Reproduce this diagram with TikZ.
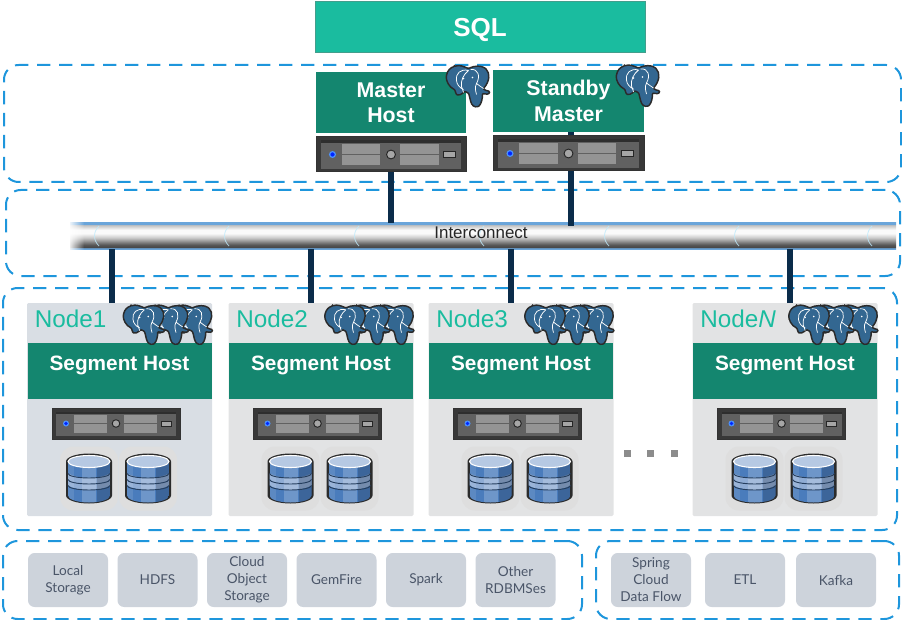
\documentclass[tikz,border=0pt]{standalone}
\usepackage{fontspec}
\setmainfont{Liberation Sans}
\newfontfamily\boxfont{Lato}
\usepackage{tikz}
\usetikzlibrary{positioning,calc,fadings}
\definecolor{sqlgreen}{HTML}{1ABC9F}
\definecolor{hostgreen}{HTML}{14866F}
\definecolor{zoneblue}{HTML}{1E96DC}
\definecolor{linkblue}{HTML}{0B2C4A}
\definecolor{nodegrey}{HTML}{E2E3E4}
\definecolor{storegrey}{HTML}{CDD3DB}
\definecolor{storetext}{HTML}{4A5568}
\definecolor{eleblue}{HTML}{336791}
\definecolor{elerim}{HTML}{2B2B2B}
\definecolor{diskblue}{HTML}{4A7CBC}
\definecolor{disklight}{HTML}{8FACD4}
\definecolor{barblue}{HTML}{6AA5DA}
\def\px{0.75pt}
\pgfdeclareverticalshading{barshade}{100bp}{
  color(0bp)=(barblue); color(26.5bp)=(barblue); color(28.5bp)=(black!72);
  color(33bp)=(black!66); color(47bp)=(black!20); color(55bp)=(black!2);
  color(62bp)=(black!2); color(71bp)=(black!25); color(72.5bp)=(barblue);
  color(100bp)=(barblue)}
\tikzset{
  sized/.style 2 args={minimum width=#1*\px, minimum height=#2*\px, inner sep=0pt, outer sep=0pt},
  zone/.style={draw=zoneblue, line width=1.5pt, rounded corners=11pt,
               dash pattern=on 10pt off 6.5pt},
  sqlbox/.style={draw=hostgreen!80, fill=sqlgreen, line width=0.75pt, text=white, text depth=0pt,
                 font=\fontsize{19.5}{22}\selectfont\bfseries},
  hostbox/.style={fill=hostgreen, text=white, align=center,
                  font=\fontsize{16}{19}\selectfont\bfseries},
  serverbox/.style={draw=black!80, fill=black!78, line width=0.75pt},
  segbox/.style={sized={185}{213}, fill=#1, rounded corners=1pt},
  seglabel/.style={text=sqlgreen, font=\fontsize{18.2}{20}\selectfont, inner sep=0pt},
  segtext/.style={text=white, font=\fontsize{15.6}{18}\selectfont\bfseries, inner sep=0pt},
  storebox/.style={sized={80}{54}, fill=storegrey, rounded corners=5pt, text=storetext,
                   align=center, font=\boxfont\fontsize{10.2}{12.8}\selectfont},
  link/.style={draw=linkblue, line width=4.2pt},
  dotbox/.style={sized={7}{7}, fill=black!45},
  server/.pic={
    \fill[black!62] (-60,-12) rectangle (60,12);
    \fill[black!82] (-60,-12) -- (60,-12) -- (60,-10) -- (-60,-10) -- cycle;
    \fill[black!42] (-42,-9) rectangle (-9,9);
    \fill[black!42] (8,-9) rectangle (41,9);
    \draw[black!62, line width=0.5pt] (-42,0) -- (-9,0) (8,0) -- (41,0);
    \fill[black!35, draw=black!85, line width=0.7pt] (0,0) circle (3.8);
    \fill[blue!60!cyan!70] (-50,0) circle (3);
    \fill[blue!85!cyan] (-50,0) circle (1.8);
    \fill[black!35, draw=black!85, line width=0.5pt] (45,-2.5) rectangle (55,2.5);
  },
  disk/.pic={
    \fill[black!13, rounded corners=10pt] (-29,-32) rectangle (29,32);
    \fill[elerim] (-23,-17) -- (-23,17) arc[start angle=180, end angle=0, x radius=23, y radius=8]
                  -- (23,-17) arc[start angle=0, end angle=-180, x radius=23, y radius=8] -- cycle;
    \begin{scope}
      \clip (-21,-17) -- (-21,17) arc[start angle=180, end angle=0, x radius=21, y radius=7]
                  -- (21,-17) -- cycle;
      \fill[diskblue] (-21,-17) rectangle (21,24);
      \fill[disklight] (-21,-5) .. controls (-10,1) and (10,1) .. (21,-5) -- (21,7)
                       .. controls (10,13) and (-10,13) .. (-21,7) -- cycle;
      \fill[white, opacity=0.2] (-7,-17) rectangle (7,24);
      \fill[black, opacity=0.18] (8,-17) rectangle (21,24);
      \fill[white, opacity=0.1] (-21,-17) rectangle (-15,24);
    \end{scope}
    \draw[black!50!diskblue, line width=0.7pt] (-21,-5) arc[start angle=180, end angle=0, x radius=21, y radius=4.5];
    \draw[black!50!diskblue, line width=0.7pt] (-21,1) arc[start angle=180, end angle=0, x radius=21, y radius=4.5];
    \draw[black!50!diskblue, line width=0.7pt] (-21,7) arc[start angle=180, end angle=0, x radius=21, y radius=4.5];
    \fill[disklight!65!white, draw=white, line width=0.8pt] (0,-17) ellipse (21 and 6);
  },
  elephant/.pic={
    \filldraw[fill=eleblue, draw=elerim, line width=1.1pt, rounded corners=0.6pt]
      (-12,-20) .. controls (-7,-22) and (-3,-20) .. (2,-18)
      .. controls (8,-21) and (15,-21) .. (19,-18)
      .. controls (24,-13) and (23,-5) .. (17,2)
      .. controls (18,4) and (21,4) .. (23,5)
      .. controls (23,8) and (19,8) .. (16,7)
      .. controls (16,12) and (15,17) .. (12,20)
      .. controls (8,21) and (5,19) .. (4,14)
      .. controls (3,11) and (3,9) .. (2,7)
      .. controls (0,5) and (-2,5) .. (-3,6)
      .. controls (-5,8) and (-8,9) .. (-10,8)
      .. controls (-11,6) and (-11,5) .. (-12,3)
      .. controls (-17,1) and (-21,-6) .. (-20,-11)
      .. controls (-19,-16) and (-16,-19) .. (-12,-20) -- cycle;
    \draw[white, line width=0.55pt]
      (-10,-6) .. controls (-11,-13) and (-6,-18) .. (2,-16)
      (-10,-6) .. controls (-10,-2) and (-6,2) .. (-3,3)
      (2,-16) .. controls (-3,-12) and (-6,-6) .. (-5,0) .. controls (-4,3) and (-3,5) .. (-3,6)
      (4,-17) .. controls (12,-18) and (14,-10) .. (10,-3) .. controls (8,1) and (9,4) .. (10,8)
      (10,-3) .. controls (13,-1) and (15,1) .. (17,2);
    \fill[white] (-3,-8) circle (0.9) (6,-9) circle (0.9);
  },
}
\begin{document}
\begin{tikzpicture}[x=0.75pt, y=-0.75pt]
  \useasboundingbox (0,0) rectangle (902,620);

  \node[zone, sized={897}{117}] (masterzone) at (452.5,123.5) {};
  \node[zone, sized={894}{86}]  (netzone)    at (453,233) {};
  \node[zone, sized={894}{242}] (segzone)    at (450,409) {};
  \node[zone, sized={579}{78}]  (storezone)  at (292.5,580) {};
  \node[zone, sized={303}{78}]  (etlzone)    at (747.5,580) {};

  \node[sqlbox, sized={330}{51}] (sql) at (480,27.5) {SQL};

  \node[hostbox, sized={150}{61}] (master)  at (391,102.5) {Master\\Host};
  \node[hostbox, sized={151}{62}] (standby) at (568.5,101) {Standby\\Master};

  \shade[shading=barshade] (70,223) rectangle (896,249);
  \node[sized={826}{26}] (bar) at (483,236) {};
  \foreach \x in {95,225,355,480,605,735,868}
    \draw[cyan!25, opacity=0.8, line width=0.6pt] (\x+4,226) .. controls (\x-2,232) and (\x-2,240) .. (\x+4,246);
  \fill[white, path fading=east] (68,222) rectangle (84,250);
  \node[font=\fontsize{12.7}{15}\selectfont, text=black!85, inner sep=0pt] (barlabel) at (481,233) {Interconnect};

  \foreach \n/\cx/\off/\col/\lab in {1/119.5/-7.5/storegrey!75/Node1, 2/321/-10/nodegrey/Node2,
      3/521/-10/nodegrey/Node3, 4/785/5/nodegrey/{Node\textit{N}}} {
    \node[segbox=\col] (node\n) at (\cx,409.5) {};
    \draw[link] ($(node\n.north)+(\off,0)$) -- ($(node\n.north |- bar.south)+(\off,0)$);
    \node[hostbox, sized={184}{56}] (head\n) at (\cx,371) {};
    \node[segtext] (segtext\n) at (\cx,365) {Segment Host};
    \node[seglabel, anchor=west] (label\n) at (\cx-85,319) {\lab};
    \node[serverbox, sized={128}{31}] (server\n) at (\cx-3.5,423.5) {};
    \pic at (server\n) {server};
    \pic at (\cx-30.5,478.5) {disk};
    \pic at (\cx+28.5,478.5) {disk};
    \pic[scale=0.95] at (\cx+71,325) {elephant};
    \pic[scale=0.95] at (\cx+47,325) {elephant};
    \pic[scale=0.95] at (\cx+23,325) {elephant};
  }

  \draw[link] (master.south) ++(0,38) -- (master.south |- bar.north);
  \draw[link] ($(standby.south)+(2.5,0)$) -- ($(standby.south |- bar.north)+(2.5,3)$);
  \node[serverbox, sized={150}{35}] (masterserver)  at (391,154.5) {};
  \node[serverbox, sized={151}{35}] (standbyserver) at (568.5,153.5) {};
  \pic[scale=1.17] at (masterserver) {server};
  \pic[scale=1.17] at (standbyserver) {server};
  \pic at (466.5,86.5) {elephant};
  \pic at (636.5,86) {elephant};

  \node[dotbox] (dota) at (627,453) {};
  \node[dotbox, right=16*\px of dota] (dotb) {};
  \node[dotbox, right=17*\px of dotb] (dotc) {};

  \node[storebox] (local) at (68,580) {Local\\Storage};
  \node[storebox, right=9.5*\px of local] (hdfs)  {HDFS};
  \node[storebox, right=9.5*\px of hdfs]  (cloud) {Cloud\\Object\\Storage};
  \node[storebox, right=9.5*\px of cloud] (gem)   {GemFire};
  \node[storebox, right=9.5*\px of gem]   (spark) {Spark};
  \node[storebox, right=9.5*\px of spark] (other) {Other\\RDBMSes};

  \node[storebox] (spring) at (651,580) {Spring\\Cloud\\Data Flow};
  \node[storebox, right=14*\px of spring] (etl)   {ETL};
  \node[storebox, right=11*\px of etl]    (kafka) {Kafka};
\end{tikzpicture}
\end{document}
